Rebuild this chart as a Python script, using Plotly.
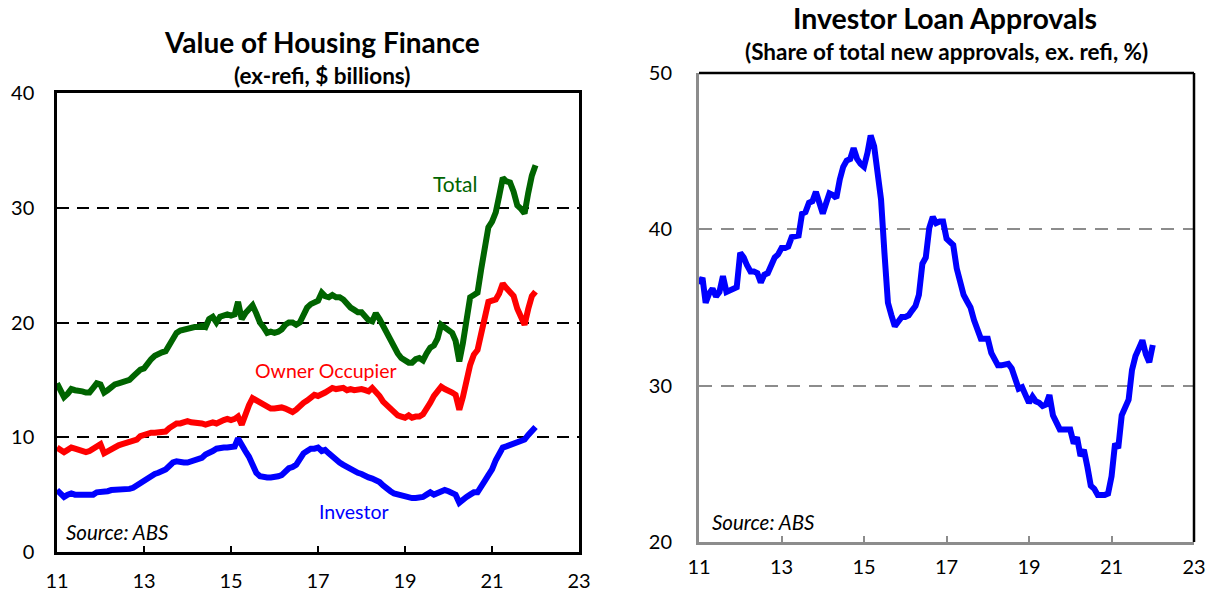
import pandas as pd
import plotly.graph_objects as go

# ---------------- data (monthly, Jan 2011 - Jan 2022) ----------------
months = pd.date_range("2011-01-01", periods=133, freq="MS")

total = [
    14.7, 14.0, 13.5, 13.8, 14.2, 14.1, 14.1, 14.0, 13.9, 13.9, 14.3, 14.7,   # 2011
    14.6, 13.9, 14.1, 14.4, 14.6, 14.7, 14.8, 14.9, 15.0, 15.3, 15.6, 15.9,   # 2012
    16.0, 16.5, 16.8, 17.1, 17.3, 17.4, 17.5, 18.0, 18.6, 19.1, 19.3, 19.4,   # 2013
    19.5, 19.5, 19.6, 19.6, 19.7, 19.6, 20.3, 20.5, 20.0, 20.5, 20.6, 20.7,   # 2014
    20.6, 20.7, 21.8, 20.3, 20.8, 21.2, 21.5, 20.8, 20.0, 19.6, 19.1, 19.2,   # 2015
    19.1, 19.2, 19.4, 19.8, 20.0, 20.0, 19.8, 20.0, 20.8, 21.3, 21.6, 21.8,   # 2016
    21.9, 22.6, 22.3, 22.2, 22.4, 22.2, 22.2, 22.0, 21.6, 21.3, 21.1, 20.9,   # 2017
    20.9, 20.6, 20.2, 20.1, 20.8, 20.3, 19.7, 19.1, 18.6, 17.8, 17.3, 16.9,   # 2018
    16.7, 16.5, 16.5, 16.8, 16.9, 16.7, 17.3, 17.8, 18.0, 18.6, 19.8, 19.6,   # 2019
    19.3, 19.1, 18.4, 16.6, 18.2, 20.4, 22.2, 22.4, 22.6, 24.6, 26.6, 28.3,   # 2020
    28.8, 29.6, 31.0, 32.6, 32.3, 32.2, 31.4, 30.2, 29.9, 29.5, 31.3, 32.8,   # 2021
    33.7,                                                                     # 2022
]

owner_occupier = [
    9.1, 8.8, 8.7, 8.9, 9.1, 9.0, 8.9, 8.8, 8.7, 8.8, 9.0, 9.3,
    9.4, 8.6, 8.8, 9.0, 9.2, 9.3, 9.4, 9.5, 9.6, 9.6, 9.8, 10.1,
    10.2, 10.4, 10.4, 10.4, 10.4, 10.5, 10.5, 10.8, 11.0, 11.2, 11.2, 11.3,
    11.4, 11.3, 11.3, 11.2, 11.2, 11.1, 11.2, 11.3, 11.2, 11.4, 11.5, 11.6,
    11.5, 11.6, 11.8, 11.1, 12.0, 12.8, 13.4, 13.2, 13.0, 12.8, 12.6, 12.5,
    12.5, 12.6, 12.6, 12.5, 12.3, 12.2, 12.4, 12.8, 13.0, 13.2, 13.5, 13.7,
    13.6, 13.7, 13.9, 14.1, 14.3, 14.2, 14.2, 14.3, 14.1, 14.2, 14.1, 14.2,
    14.2, 14.1, 14.0, 14.3, 14.0, 13.6, 13.1, 12.8, 12.5, 12.2, 11.9, 11.8,
    11.7, 11.9, 11.7, 11.8, 11.8, 12.0, 12.4, 13.0, 13.6, 14.1, 14.4, 14.2,
    14.1, 13.9, 13.7, 12.4, 13.5, 15.0, 16.3, 17.2, 17.6, 19.0, 20.4, 21.8,
    21.9, 22.0, 22.5, 23.4, 23.0, 22.7, 22.3, 21.2, 20.4, 19.8, 21.2, 22.3,
    22.7,
]

investor = [
    5.4, 5.0, 4.8, 5.0, 5.1, 5.0, 5.0, 5.0, 4.9, 5.0, 5.0, 5.2,
    5.2, 5.3, 5.3, 5.4, 5.4, 5.4, 5.4, 5.5, 5.5, 5.6, 5.8, 6.1,
    6.2, 6.4, 6.6, 6.8, 6.9, 7.0, 7.2, 7.5, 7.8, 7.9, 7.8, 7.8,
    7.8, 7.9, 8.0, 8.1, 8.2, 8.5, 8.6, 8.8, 9.0, 9.1, 9.1, 9.1,
    9.1, 9.2, 9.9, 9.2, 8.8, 8.3, 7.5, 6.9, 6.6, 6.5, 6.5, 6.5,
    6.5, 6.6, 6.7, 7.0, 7.3, 7.4, 7.6, 8.1, 8.6, 8.8, 9.0, 9.0,
    9.1, 8.8, 8.9, 8.6, 8.3, 8.1, 7.8, 7.6, 7.4, 7.2, 7.0, 6.9,
    6.8, 6.6, 6.5, 6.4, 6.3, 6.1, 5.8, 5.5, 5.3, 5.1, 5.0, 4.9,
    4.8, 4.8, 4.7, 4.7, 4.7, 4.8, 5.0, 5.2, 5.0, 5.1, 5.3, 5.4,
    5.3, 5.1, 5.0, 4.3, 4.6, 4.8, 5.0, 5.2, 5.2, 5.6, 6.2, 6.7,
    7.2, 8.0, 8.6, 9.1, 9.2, 9.3, 9.4, 9.5, 9.6, 9.8, 10.2, 10.5,
    10.9,
]

investor_share = [
    36.5, 36.9, 35.3, 35.9, 36.2, 35.7, 36.0, 37.0, 36.0, 36.1, 36.1, 36.3,
    38.5, 38.2, 37.7, 37.3, 37.3, 37.2, 36.6, 37.1, 37.2, 37.8, 38.2, 38.4,
    38.8, 38.8, 38.9, 39.5, 39.6, 39.6, 41.0, 41.1, 41.7, 41.8, 42.4, 41.6,
    41.0, 41.7, 42.3, 42.2, 42.0, 43.2, 44.0, 44.4, 44.5, 45.2, 44.5, 44.2,
    44.0, 44.9, 46.0, 45.3, 43.6, 41.9, 38.5, 35.3, 34.5, 33.8, 34.1, 34.4,
    34.4, 34.5, 34.8, 35.1, 35.8, 37.8, 38.2, 40.1, 40.8, 40.4, 40.5, 40.5,
    39.4, 39.2, 39.0, 37.5, 36.5, 35.8, 35.4, 35.0, 34.2, 33.5, 33.0, 33.0,
    33.0, 32.1, 31.7, 31.3, 31.3, 31.4, 31.4, 31.1, 30.5, 29.8, 29.9, 29.4,
    28.9, 29.3, 29.0, 28.9, 28.7, 28.8, 29.4, 28.1, 27.6, 27.2, 27.2, 27.2,
    27.2, 26.3, 26.7, 25.5, 25.9, 24.8, 23.6, 23.4, 23.0, 23.0, 23.0, 23.1,
    24.2, 26.3, 26.0, 28.1, 28.6, 29.1, 31.0, 31.9, 32.4, 32.9, 32.0, 31.5,
    32.6,
]

x_tick_dates = ["2011-01-01", "2013-01-01", "2015-01-01", "2017-01-01",
                "2019-01-01", "2021-01-01", "2023-01-01"]
x_tick_labels = ["11", "13", "15", "17", "19", "21", "23"]
left_y_ticks = [0, 10, 20, 30, 40]
right_y_ticks = [20, 30, 40, 50]

# ---------------- figure ----------------
W, H = 1207, 592
FONT = "Lato"
LW = 6


def px_x(p):
    return p / W


def px_y(p):
    return 1 - p / H


fig = go.Figure()

fig.add_trace(go.Scatter(x=months, y=total, mode="lines",
                         line=dict(color="#006400", width=LW), xaxis="x", yaxis="y"))
fig.add_trace(go.Scatter(x=months, y=owner_occupier, mode="lines",
                         line=dict(color="#FF0000", width=LW), xaxis="x", yaxis="y"))
fig.add_trace(go.Scatter(x=months, y=investor, mode="lines",
                         line=dict(color="#0000FF", width=LW), xaxis="x", yaxis="y"))
fig.add_trace(go.Scatter(x=months, y=investor_share, mode="lines",
                         line=dict(color="#0000FF", width=LW), xaxis="x2", yaxis="y2"))

xcommon = dict(type="date", range=["2011-01-01", "2023-01-01"],
               tickvals=x_tick_dates, ticktext=x_tick_labels,
               ticks="inside", ticklen=6, tickwidth=2, automargin=False,
               showgrid=False, zeroline=False,
               tickfont=dict(family=FONT, size=20, color="black"))

fig.update_layout(
    width=W, height=H,
    margin=dict(l=0, r=0, t=0, b=0),
    paper_bgcolor="white", plot_bgcolor="white",
    showlegend=False,
    font=dict(family=FONT, color="black"),
    xaxis=dict(**xcommon, domain=[px_x(57), px_x(579)], anchor="y",
               showline=True, linecolor="black", linewidth=2.5, mirror=True,
               tickcolor="black", ticklabelstandoff=9),
    yaxis=dict(range=[0, 40], tickvals=left_y_ticks, domain=[px_y(552), px_y(93)],
               anchor="x", showline=True, linecolor="black", linewidth=2.5, mirror=True,
               ticks="", showgrid=True, gridcolor="black", gridwidth=2, automargin=False,
               griddash="12px,8px", zeroline=False, ticklabelstandoff=16,
               tickfont=dict(family=FONT, size=20, color="black")),
    xaxis2=dict(**xcommon, domain=[px_x(699), px_x(1194)], anchor="y2",
                showline=True, linecolor="#8c8c8c", linewidth=3, mirror=False,
                tickcolor="#8c8c8c", ticklabelstandoff=5),
    yaxis2=dict(range=[20, 50], tickvals=right_y_ticks, domain=[px_y(542), px_y(73)],
                anchor="x2", showline=True, linecolor="#8c8c8c", linewidth=3, mirror=False,
                ticks="", showgrid=True, gridcolor="#8c8c8c", gridwidth=2, automargin=False,
                griddash="13px,9px", zeroline=False, ticklabelstandoff=20,
                tickfont=dict(family=FONT, size=20, color="black")),
)

# black top/right frame for right panel
fig.add_shape(type="line", xref="x2 domain", yref="y2 domain", x0=0, x1=1, y0=1, y1=1,
              line=dict(color="black", width=2.5))
fig.add_shape(type="line", xref="x2 domain", yref="y2 domain", x0=1, x1=1, y0=0, y1=1,
              line=dict(color="black", width=2.5))

# titles
fig.add_annotation(text="<b>Value of Housing Finance</b>", xref="paper", yref="paper",
                   x=px_x(322), y=px_y(42), showarrow=False, xanchor="center", yanchor="middle",
                   font=dict(family=FONT, size=28, color="black"))
fig.add_annotation(text="<b>(ex-refi, $ billions)</b>", xref="paper", yref="paper",
                   x=px_x(322), y=px_y(75), showarrow=False, xanchor="center", yanchor="middle",
                   font=dict(family=FONT, size=22.5, color="black"))
fig.add_annotation(text="<b>Investor Loan Approvals</b>", xref="paper", yref="paper",
                   x=px_x(945), y=px_y(18), showarrow=False, xanchor="center", yanchor="middle",
                   font=dict(family=FONT, size=28.5, color="black"))
fig.add_annotation(text="<b>(Share of total new approvals, ex. refi, %)</b>", xref="paper",
                   yref="paper", x=px_x(946), y=px_y(51), showarrow=False, xanchor="center",
                   yanchor="middle", font=dict(family=FONT, size=22.5, color="black"))

# series labels
fig.add_annotation(text="Total", xref="x", yref="y", x="2020-02-25", y=32.1, showarrow=False,
                   font=dict(family=FONT, size=21, color="#006400"))
fig.add_annotation(text="Owner Occupier", xref="x", yref="y", x="2017-03-06", y=15.8,
                   showarrow=False, font=dict(family=FONT, size=19.5, color="#FF0000"))
fig.add_annotation(text="Investor", xref="x", yref="y", x="2017-10-30", y=3.5,
                   showarrow=False, font=dict(family=FONT, size=19.5, color="#0000FF"))

# sources
fig.add_annotation(text="<i>Source: ABS</i>", xref="x", yref="y", x="2011-02-26", y=1.74,
                   showarrow=False, xanchor="left", yanchor="middle",
                   font=dict(family=FONT, size=20.5, color="black"))
fig.add_annotation(text="<i>Source: ABS</i>", xref="x2", yref="y2", x="2011-04-08", y=21.27,
                   showarrow=False, xanchor="left", yanchor="middle",
                   font=dict(family=FONT, size=20.5, color="black"))

fig.write_html("out.html")
